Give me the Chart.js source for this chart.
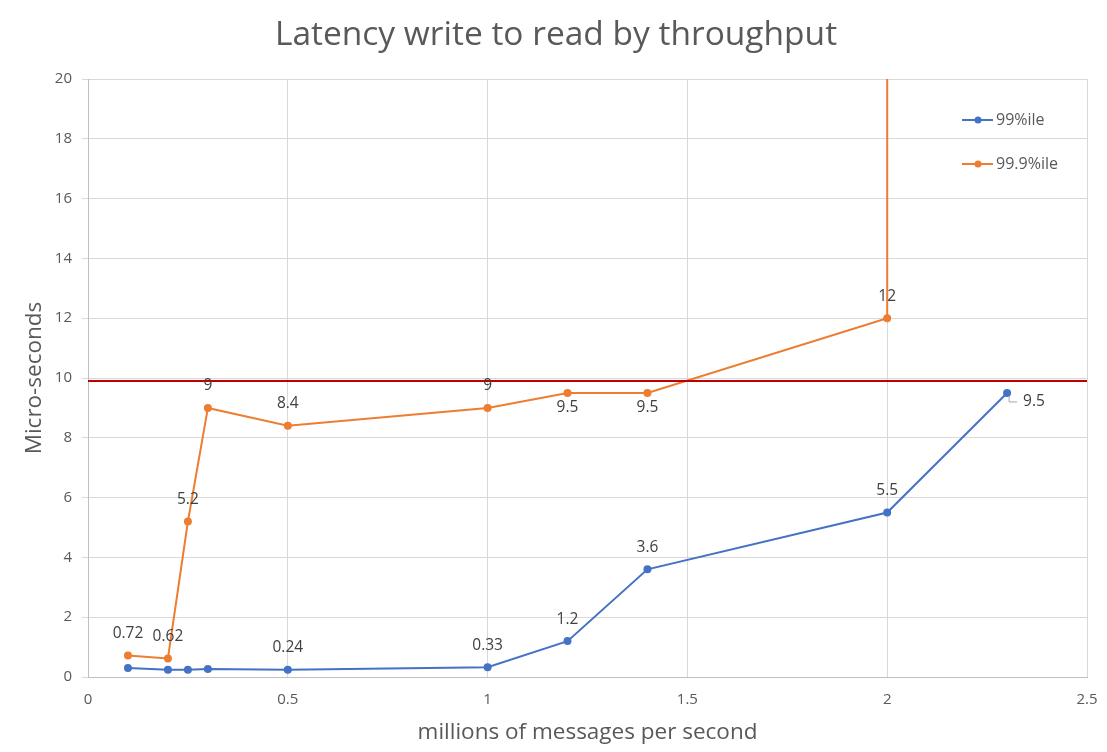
<!DOCTYPE html>
<html>
<head>
<meta charset="utf-8">
<script src="https://cdn.jsdelivr.net/npm/chart.js@4.4.0/dist/chart.umd.min.js"></script>
<style>
html, body { margin: 0; padding: 0; background: #fff; }
</style>
</head>
<body>
<canvas id="chart" width="1107" height="752"></canvas>
<script>
// data
var p99x = [0.1, 0.2, 0.25, 0.3, 0.5, 1, 1.2, 1.4, 2, 2.3];
var p99y = [0.3, 0.24, 0.24, 0.27, 0.24, 0.33, 1.2, 3.6, 5.5, 9.5];
var p999x = [0.1, 0.2, 0.25, 0.3, 0.5, 1, 1.2, 1.4, 2, 2];
var p999y = [0.72, 0.62, 5.2, 9, 8.4, 9, 9.5, 9.5, 12, 30]; // last point goes off the top
var limitY = 9.9;
var xMin = 0, xMax = 2.5, xStep = 0.5;
var yMin = 0, yMax = 20, yStep = 2;
var chartTitle = 'Latency write to read by throughput';

var textColor = '#595959';
var fontName = '"Open Sans", "Noto Sans", sans-serif';

function points(xs, ys) {
	return xs.map(function(x, i){ return {x: x, y: ys[i]}; });
}

// title drawn by hand so it sits where the original has it
var topTitle = {
	id: 'topTitle',
	afterDraw: function(chart) {
		var ctx = chart.ctx;
		ctx.save();
		ctx.font = '33.5px ' + fontName;
		ctx.fillStyle = textColor;
		ctx.textAlign = 'center';
		ctx.textBaseline = 'middle';
		ctx.fillText(chartTitle, 556, 35);
		ctx.restore();
	}
};

var pointLabels = {
	id: 'pointLabels',
	afterDatasetsDraw: function(chart) {
		var ctx = chart.ctx;
		ctx.save();
		ctx.font = '15.5px ' + fontName;
		ctx.fillStyle = '#404040';
		ctx.textBaseline = 'middle';
		chart.data.datasets.forEach(function(ds, i){
			if (!ds.labelPos) return;
			var meta = chart.getDatasetMeta(i);
			meta.data.forEach(function(pt, j){
				var pos = ds.labelPos[j];
				if (!pos) return;
				var text = String(ds.data[j].y);
				ctx.textAlign = 'center';
				if (pos === 'above') {
					ctx.fillText(text, pt.x, pt.y - 22);
				} else if (pos === 'below') {
					ctx.fillText(text, pt.x, pt.y + 15);
				} else if (pos === 'right') {
					// small leader line like the original
					ctx.strokeStyle = '#a6a6a6';
					ctx.lineWidth = 1;
					ctx.beginPath();
					ctx.moveTo(pt.x + 2, pt.y + 3);
					ctx.lineTo(pt.x + 2, pt.y + 9);
					ctx.lineTo(pt.x + 10, pt.y + 9);
					ctx.stroke();
					ctx.textAlign = 'left';
					ctx.fillText(text, pt.x + 16, pt.y + 9);
				}
			});
		});
		ctx.restore();
	}
};

var sideLegend = {
	id: 'sideLegend',
	afterDraw: function(chart) {
		var ctx = chart.ctx;
		var items = chart.data.datasets.filter(function(ds){ return ds.inLegend; });
		ctx.save();
		ctx.font = '16px ' + fontName;
		ctx.textBaseline = 'middle';
		ctx.textAlign = 'left';
		items.forEach(function(ds, k){
			var y = 120 + k * 44;
			ctx.strokeStyle = ds.borderColor;
			ctx.lineWidth = 2;
			ctx.beginPath();
			ctx.moveTo(962, y);
			ctx.lineTo(993, y);
			ctx.stroke();
			ctx.fillStyle = ds.borderColor;
			ctx.beginPath();
			ctx.arc(978, y, 3.5, 0, Math.PI * 2);
			ctx.fill();
			ctx.fillStyle = textColor;
			ctx.fillText(ds.label, 996, y);
		});
		ctx.restore();
	}
};

var context = document.getElementById('chart').getContext('2d');
var chart = new Chart(context, {
	type: 'line',
	data: {
		datasets: [{
			label: 'limit',
			data: [{x: xMin, y: limitY}, {x: xMax, y: limitY}],
			borderColor: '#C00000',
			borderWidth: 2,
			pointRadius: 0,
			fill: false
		}, {
			label: '99%ile',
			inLegend: true,
			data: points(p99x, p99y),
			borderColor: '#4472C4',
			backgroundColor: '#4472C4',
			borderWidth: 2,
			pointRadius: 4,
			pointBorderWidth: 0,
			fill: false,
			labelPos: [null, null, null, null, 'above', 'above', 'above', 'above', 'above', 'right']
		}, {
			label: '99.9%ile',
			inLegend: true,
			data: points(p999x, p999y),
			borderColor: '#ED7D31',
			backgroundColor: '#ED7D31',
			borderWidth: 2,
			pointRadius: [4, 4, 4, 4, 4, 4, 4, 4, 4, 0],
			pointBorderWidth: 0,
			fill: false,
			labelPos: ['above', 'above', 'above', 'above', 'above', 'above', 'below', 'below', 'above', null]
		}]
	},
	options: {
		responsive: false,
		animation: false,
		devicePixelRatio: 1,
		layout: { padding: { left: 0, right: 20, top: 79, bottom: 0 } },
		plugins: {
			legend: { display: false },
			tooltip: { enabled: false },
			title: { display: false }
		},
		scales: {
			x: {
				type: 'linear',
				min: xMin,
				max: xMax,
				afterFit: function(scale){ scale.height = 75; },
				ticks: {
					stepSize: xStep,
					color: textColor,
					font: { family: fontName, size: 15 },
					padding: 0,
					callback: function(v){ return String(v); }
				},
				grid: { color: '#D9D9D9', drawTicks: true, tickLength: 14, tickColor: 'rgba(0,0,0,0)' },
				border: { color: '#BFBFBF' },
				title: {
					display: true,
					text: 'millions of messages per second',
					color: textColor,
					font: { family: fontName, size: 22.5, lineHeight: 1.2 },
					padding: { top: 0, bottom: 6 }
				}
			},
			y: {
				min: yMin,
				max: yMax,
				afterFit: function(scale){ scale.width = 88; },
				ticks: {
					stepSize: yStep,
					color: textColor,
					font: { family: fontName, size: 15 },
					padding: 10
				},
				grid: { color: '#D9D9D9', tickLength: 6 },
				border: { color: '#BFBFBF' },
				title: {
					display: true,
					text: 'Micro-seconds',
					color: textColor,
					font: { family: fontName, size: 22.5, lineHeight: 1.2 },
					padding: { top: 21, bottom: 0 }
				}
			}
		}
	},
	plugins: [topTitle, pointLabels, sideLegend]
});
</script>
</body>
</html>
